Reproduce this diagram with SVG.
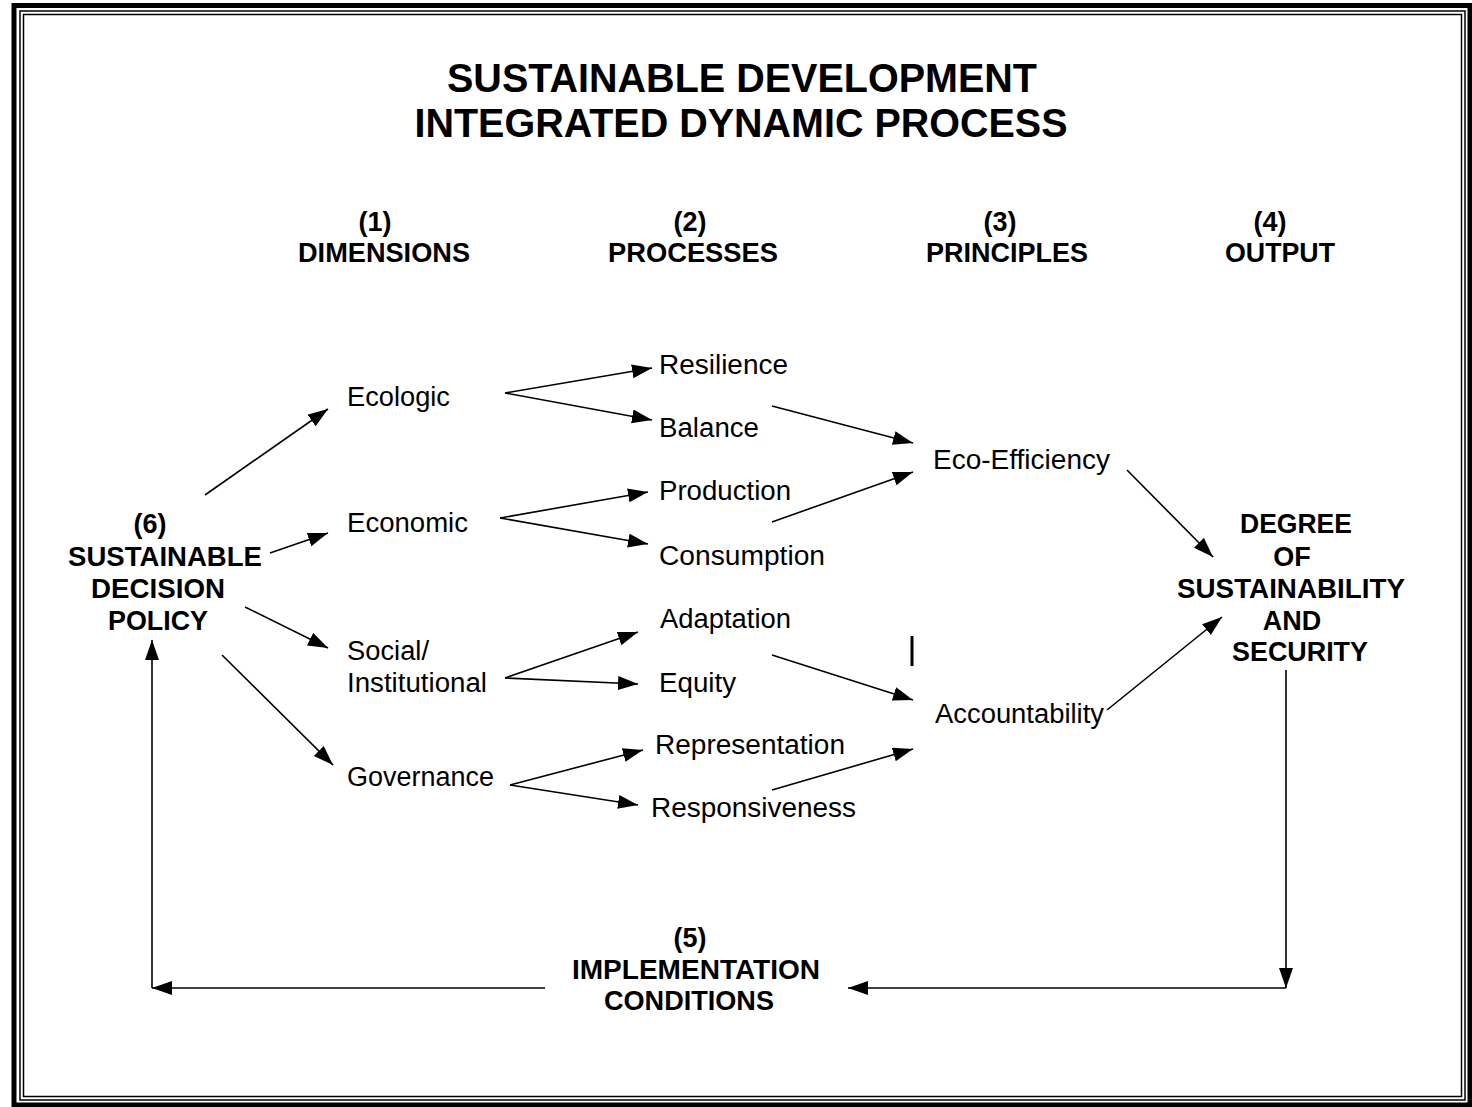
<svg xmlns="http://www.w3.org/2000/svg" width="1472" height="1107" viewBox="0 0 1472 1107">
<defs>
<marker id="ah" markerUnits="userSpaceOnUse" markerWidth="22" markerHeight="16" refX="20" refY="7" orient="auto">
<path d="M0,0 L20,7 L0,14 z" fill="#000"/>
</marker>
<style>
.t{font-family:"Liberation Sans",Arial,sans-serif;fill:#000}
.b{font-weight:bold;font-size:27px}
.r{font-size:27px}
.h{font-weight:bold;font-size:40px}
.c{text-anchor:middle}
.ln{stroke:#000;stroke-width:1.6;fill:none;marker-end:url(#ah)}
.pl{stroke:#000;stroke-width:1.6;fill:none}
</style>
</defs>
<rect width="1472" height="1107" fill="#fff"/>
<g id="frame" fill="none" stroke="#000">
<rect x="14" y="5.5" width="1456" height="1099.5" stroke-width="5"/>
<rect x="20" y="11" width="1445" height="1089" stroke-width="1.5"/>
<rect x="23.5" y="14.5" width="1438" height="1082" stroke-width="1.5"/>
</g>
<g id="title">
<text class="t h c" x="742" y="92" textLength="590" lengthAdjust="spacingAndGlyphs">SUSTAINABLE DEVELOPMENT</text>
<text class="t h c" x="741" y="137" textLength="653" lengthAdjust="spacingAndGlyphs">INTEGRATED DYNAMIC PROCESS</text>
</g>
<g id="headers">
<text class="t b c" x="375" y="231">(1)</text>
<text class="t b c" x="384" y="262" textLength="172" lengthAdjust="spacingAndGlyphs">DIMENSIONS</text>
<text class="t b c" x="690" y="231">(2)</text>
<text class="t b c" x="693" y="262" textLength="170" lengthAdjust="spacingAndGlyphs">PROCESSES</text>
<text class="t b c" x="1000" y="231">(3)</text>
<text class="t b c" x="1007" y="262" textLength="162" lengthAdjust="spacingAndGlyphs">PRINCIPLES</text>
<text class="t b c" x="1270" y="231">(4)</text>
<text class="t b c" x="1280" y="262" textLength="110" lengthAdjust="spacingAndGlyphs">OUTPUT</text>
</g>
<g id="policy">
<text class="t b c" x="150" y="533">(6)</text>
<text class="t b c" x="165" y="566" textLength="194" lengthAdjust="spacingAndGlyphs">SUSTAINABLE</text>
<text class="t b c" x="158" y="598" textLength="134" lengthAdjust="spacingAndGlyphs">DECISION</text>
<text class="t b c" x="158" y="630" textLength="100" lengthAdjust="spacingAndGlyphs">POLICY</text>
</g>
<g id="ecologic"><text class="t r" x="347" y="406" textLength="103" lengthAdjust="spacingAndGlyphs">Ecologic</text></g>
<g id="economic"><text class="t r" x="347" y="532" textLength="121" lengthAdjust="spacingAndGlyphs">Economic</text></g>
<g id="social">
<text class="t r" x="347" y="660" textLength="82" lengthAdjust="spacingAndGlyphs">Social/</text>
<text class="t r" x="347" y="692" textLength="140" lengthAdjust="spacingAndGlyphs">Institutional</text>
</g>
<g id="governance"><text class="t r" x="347" y="786" textLength="147" lengthAdjust="spacingAndGlyphs">Governance</text></g>
<g id="resilience"><text class="t r" x="659" y="374" textLength="129" lengthAdjust="spacingAndGlyphs">Resilience</text></g>
<g id="balance"><text class="t r" x="659" y="437" textLength="100" lengthAdjust="spacingAndGlyphs">Balance</text></g>
<g id="production"><text class="t r" x="659" y="500" textLength="132" lengthAdjust="spacingAndGlyphs">Production</text></g>
<g id="consumption"><text class="t r" x="659" y="565" textLength="166" lengthAdjust="spacingAndGlyphs">Consumption</text></g>
<g id="adaptation"><text class="t r" x="660" y="628" textLength="131" lengthAdjust="spacingAndGlyphs">Adaptation</text></g>
<g id="equity"><text class="t r" x="659" y="692" textLength="77" lengthAdjust="spacingAndGlyphs">Equity</text></g>
<g id="representation"><text class="t r" x="655" y="754" textLength="190" lengthAdjust="spacingAndGlyphs">Representation</text></g>
<g id="responsiveness"><text class="t r" x="651" y="817" textLength="205" lengthAdjust="spacingAndGlyphs">Responsiveness</text></g>
<g id="eco-efficiency"><text class="t r" x="933" y="469" textLength="177" lengthAdjust="spacingAndGlyphs">Eco-Efficiency</text></g>
<g id="accountability"><text class="t r" x="935" y="723" textLength="169" lengthAdjust="spacingAndGlyphs">Accountability</text></g>
<g id="degree">
<text class="t b c" x="1296" y="533" textLength="112" lengthAdjust="spacingAndGlyphs">DEGREE</text>
<text class="t b c" x="1292" y="566">OF</text>
<text class="t b c" x="1291" y="598" textLength="228" lengthAdjust="spacingAndGlyphs">SUSTAINABILITY</text>
<text class="t b c" x="1292" y="630">AND</text>
<text class="t b c" x="1300" y="661" textLength="136" lengthAdjust="spacingAndGlyphs">SECURITY</text>
</g>
<g id="implementation">
<text class="t b c" x="690" y="947">(5)</text>
<text class="t b c" x="696" y="979" textLength="248" lengthAdjust="spacingAndGlyphs">IMPLEMENTATION</text>
<text class="t b c" x="689" y="1010" textLength="170" lengthAdjust="spacingAndGlyphs">CONDITIONS</text>
</g>
<g id="connectors">
<line class="ln" x1="205" y1="495" x2="328" y2="409"/>
<line class="ln" x1="270" y1="553" x2="328" y2="533"/>
<line class="ln" x1="245" y1="607" x2="328" y2="648"/>
<line class="ln" x1="222" y1="655" x2="333" y2="765"/>
<line class="ln" x1="505" y1="393" x2="652" y2="368"/>
<line class="ln" x1="505" y1="393" x2="652" y2="420"/>
<line class="ln" x1="500" y1="518" x2="648" y2="492"/>
<line class="ln" x1="500" y1="518" x2="648" y2="544"/>
<line class="ln" x1="505" y1="678" x2="638" y2="632"/>
<line class="ln" x1="505" y1="678" x2="638" y2="684"/>
<line class="ln" x1="510" y1="785" x2="643" y2="750"/>
<line class="ln" x1="510" y1="785" x2="638" y2="805"/>
<line class="ln" x1="772" y1="406" x2="913" y2="443"/>
<line class="ln" x1="772" y1="522" x2="913" y2="472"/>
<line class="ln" x1="772" y1="655" x2="913" y2="700"/>
<line class="ln" x1="772" y1="790" x2="913" y2="749"/>
<line class="ln" x1="1127" y1="470" x2="1213" y2="557"/>
<line class="ln" x1="1107" y1="710" x2="1222" y2="617"/>
<line x1="912" y1="636" x2="912" y2="666" stroke="#000" stroke-width="3"/>
<line class="ln" x1="1286" y1="670" x2="1286" y2="988"/>
<line class="ln" x1="1286" y1="988" x2="848" y2="988"/>
<line class="ln" x1="545" y1="988" x2="152" y2="988"/>
<line class="ln" x1="152" y1="988" x2="152" y2="640"/>
</g>
</svg>
